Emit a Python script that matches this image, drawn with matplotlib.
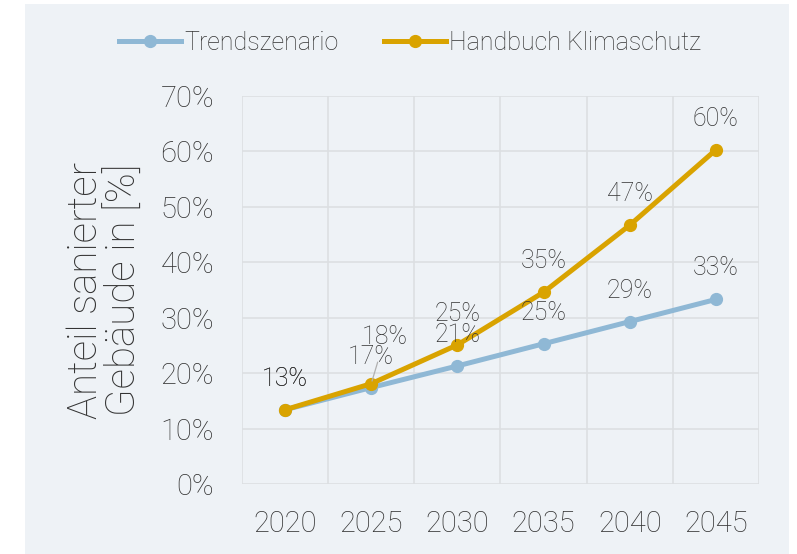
import matplotlib
matplotlib.use("Agg")
import matplotlib.pyplot as plt
from matplotlib.patches import Rectangle
from matplotlib.lines import Line2D

years = ["2020", "2025", "2030", "2035", "2040", "2045"]
trend = [13.4, 17.4, 21.3, 25.3, 29.3, 33.3]
handbuch = [13.4, 18.1, 25.1, 34.6, 46.7, 60.3]
series_names = ["Trendszenario", "Handbuch Klimaschutz"]
yticks = [0, 10, 20, 30, 40, 50, 60, 70]
ylabel = "Anteil sanierter\nGebäude in [%]"

plt.rcParams['font.family'] = ['Roboto', 'DejaVu Sans']
plt.rcParams['font.weight'] = 'light'
plt.rcParams['axes.labelweight'] = 'light'

W, H = 797, 554
fig = plt.figure(figsize=(W / 100, H / 100), dpi=100)
fig.patch.set_facecolor("white")
bg = "#eef2f6"
fig.patches.append(Rectangle((25 / W, 0), (789 - 25) / W, (H - 4) / H,
                             transform=fig.transFigure, facecolor=bg,
                             edgecolor="none", zorder=-10))

ax = fig.add_axes([242 / W, 1 - 484 / H, (759 - 242) / W, (484 - 96) / H])
ax.set_facecolor(bg)

txt = "#333333"
blue = "#8fb8d5"
gold = "#d9a300"
grid = "#dcdfe2"

x = list(range(len(years)))
ax.set_xlim(-0.5, len(years) - 0.5)
ax.set_ylim(0, 70)
ax.set_yticks(yticks)
ax.set_yticklabels([f"{t}%" for t in yticks])
ax.set_xticks(x)
ax.set_xticklabels(years)
ax.tick_params(length=0, labelsize=21, colors=txt)
ax.tick_params(axis='y', pad=20)
ax.tick_params(axis='x', pad=19)

for t in yticks:
    ax.axhline(t, color=grid, lw=1.2, zorder=0)
for b in [i - 0.5 for i in range(len(years) + 1)]:
    ax.axvline(b, color=grid, lw=1.2, zorder=0)
for s in ax.spines.values():
    s.set_visible(False)

ax.plot(x, trend, color=blue, lw=3.6, marker='o', ms=8.5, solid_capstyle='round', zorder=3)
ax.plot(x, handbuch, color=gold, lw=3.6, marker='o', ms=8.5, solid_capstyle='round', zorder=4)

def lab(xi, v, dx=0, dy=31, leader=False):
    kw = {}
    if leader:
        kw['arrowprops'] = dict(arrowstyle='-', color='#b0b0b0', lw=0.9,
                                shrinkA=8, shrinkB=2)
    ax.annotate(f"{round(v):.0f}%", (xi, v), xytext=(dx, dy), textcoords='offset pixels',
                ha='center', va='center', fontsize=18, color=txt, zorder=6, **kw)

for i, v in enumerate(trend):
    lab(i, v)
for i, v in enumerate(handbuch):
    if i == 1:
        lab(i, v, dx=14, dy=47, leader=True)
    else:
        lab(i, v)

ax.set_ylabel(ylabel, fontsize=29, color=txt, labelpad=12, linespacing=1.0)

handles = [Line2D([], [], color=blue, lw=3.6, marker='o', ms=8.5),
           Line2D([], [], color=gold, lw=3.6, marker='o', ms=8.5)]
fig.legend(handles, series_names, loc='center', bbox_to_anchor=(410 / W, 1 - 43 / H),
           ncol=2, frameon=False, fontsize=18, labelcolor=txt, handlelength=2.5,
           handletextpad=0.12, columnspacing=1.8)

fig.savefig("out.png", dpi=100, facecolor="white")
